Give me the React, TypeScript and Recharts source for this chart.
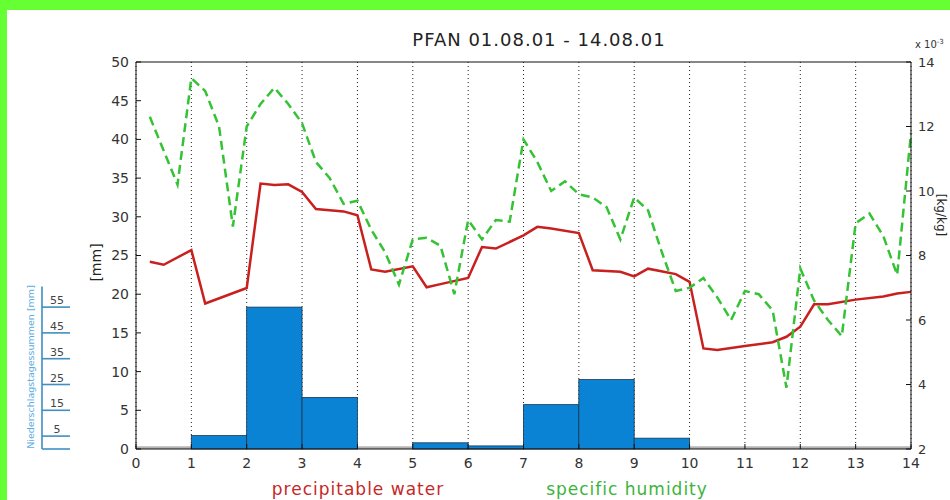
import React from "react";
import {
  ComposedChart, Bar, Line, XAxis, YAxis, CartesianGrid, ReferenceArea, Label,
} from "recharts";

// precipitable water [mm], 6-hourly-ish vertices
const PW_DAY = [0.25, 0.5, 1.0, 1.25, 2.0, 2.25, 2.5, 2.75, 3.0, 3.25, 3.75, 4.0, 4.25, 4.5, 5.0, 5.25, 5.5, 6.0, 6.25, 6.5, 7.0, 7.25, 7.5, 8.0, 8.25, 8.75, 9.0, 9.25, 9.75, 10.0, 10.25, 10.5, 11.0, 11.5, 11.75, 12.0, 12.25, 12.5, 13.0, 13.5, 13.75, 14.0];
const PW_MM = [24.2, 23.8, 25.7, 18.8, 20.8, 34.3, 34.1, 34.2, 33.2, 31.0, 30.7, 30.2, 23.2, 22.9, 23.6, 20.9, 21.3, 22.1, 26.1, 25.9, 27.6, 28.7, 28.5, 27.9, 23.1, 22.9, 22.3, 23.3, 22.6, 21.6, 13.0, 12.8, 13.3, 13.8, 14.5, 15.8, 18.7, 18.7, 19.3, 19.7, 20.1, 20.3];

// specific humidity [x 10^-3 kg/kg]
const Q_DAY = [0.25, 0.75, 1.0, 1.25, 1.5, 1.75, 2.0, 2.25, 2.5, 2.75, 3.0, 3.25, 3.5, 3.75, 4.0, 4.25, 4.5, 4.75, 5.0, 5.25, 5.5, 5.75, 6.0, 6.25, 6.5, 6.75, 7.0, 7.25, 7.5, 7.75, 8.0, 8.25, 8.5, 8.75, 9.0, 9.25, 9.5, 9.75, 10.0, 10.25, 10.5, 10.75, 11.0, 11.25, 11.5, 11.75, 12.0, 12.25, 12.5, 12.75, 13.0, 13.25, 13.5, 13.75, 14.0];
const Q_VAL = [12.3, 10.2, 13.5, 13.1, 12.0, 8.9, 12.0, 12.7, 13.2, 12.7, 12.1, 10.9, 10.4, 9.6, 9.7, 8.8, 8.1, 7.1, 8.5, 8.55, 8.3, 6.8, 9.1, 8.5, 9.1, 9.05, 11.6, 10.9, 10.0, 10.3, 9.9, 9.8, 9.5, 8.5, 9.8, 9.4, 8.1, 6.9, 7.0, 7.3, 6.7, 6.0, 6.9, 6.8, 6.3, 3.9, 7.6, 6.6, 6.0, 5.5, 9.0, 9.3, 8.6, 7.4, 11.8];

// Niederschlagstagessummen [mm], one bar per day (centre of day)
const RAIN_DAY = [1.5, 2.5, 3.5, 5.5, 6.5, 7.5, 8.5, 9.5];
const RAIN_MM = [5.2, 55, 20, 2.4, 1.2, 17.2, 26.9, 4.2];

const X_TICKS = [0, 1, 2, 3, 4, 5, 6, 7, 8, 9, 10, 11, 12, 13, 14];
const MM_TICKS = [0, 5, 10, 15, 20, 25, 30, 35, 40, 45, 50];
const Q_TICKS = [2, 4, 6, 8, 10, 12, 14];
const RAIN_TICKS = [0, 5, 15, 25, 35, 45, 55];
const RAIN_MAX = 150;

const W = 943;
const H = 490;
const PLOT_W = 775;
const PLOT_H = 387;
const DAY_PX = PLOT_W / 14;
const RAIN_X = 35;
const FONT = "'DejaVu Sans', Verdana, sans-serif";

const RED = "#c8201e";
const GREEN = "#35c235";
const BLUE = "#0a83d4";
const RAIN_AXIS = "#3f8fc0";

const allDays = Array.from(new Set([...PW_DAY, ...Q_DAY, ...RAIN_DAY])).sort((a, b) => a - b);
const chartData = allDays.map((d) => {
  const i = PW_DAY.indexOf(d);
  const j = Q_DAY.indexOf(d);
  const k = RAIN_DAY.indexOf(d);
  return {
    day: d,
    pw: i >= 0 ? PW_MM[i] : null,
    q: j >= 0 ? Q_VAL[j] : null,
    rain: k >= 0 ? RAIN_MM[k] : null,
  };
});

// daily bars span the whole day; recharts centres them, we widen to one day
function DayBar(props: any) {
  const { x, y, width, height } = props;
  if (!height || height <= 0) return null;
  const cx = x + width / 2;
  return (
    <rect x={cx - DAY_PX / 2} y={y} width={DAY_PX} height={height} fill={BLUE} stroke="#1b3550" strokeWidth={0.8} />
  );
}

function RainTick(props: any) {
  const { y, payload } = props;
  const v = payload.value;
  return (
    <g>
      <line x1={RAIN_X} x2={RAIN_X + 28} y1={y} y2={y} stroke={RAIN_AXIS} strokeWidth={1.6} />
      {v === 0 ? (
        <line x1={RAIN_X} x2={RAIN_X} y1={y} y2={y - (63 * PLOT_H) / RAIN_MAX} stroke={RAIN_AXIS} strokeWidth={1.6} />
      ) : (
        <text x={RAIN_X + 15} y={y - 3} textAnchor="middle" fontSize={11} fill="#444" fontFamily={FONT}>
          {v}
        </text>
      )}
    </g>
  );
}

export default function App() {
  const tickStyle = { fontFamily: FONT, fontSize: 14, fill: "#333" };
  return (
    <div style={{ position: "absolute", left: 0, top: 0, width: 950, height: 500, background: "#66ff33" }}>
      <div style={{ position: "absolute", left: 7, top: 10, width: W, height: H, background: "#fff", overflow: "hidden" }}>
        <div
          style={{
            position: "absolute", left: 532, top: 19, transform: "translateX(-50%)",
            fontFamily: FONT, fontSize: 18, letterSpacing: 1, color: "#222", whiteSpace: "nowrap",
          }}
        >
          PFAN 01.08.01 - 14.08.01
        </div>
        <ComposedChart width={W} height={H} data={chartData} margin={{ top: 50, right: 0, bottom: 21, left: 0 }}>
          <CartesianGrid horizontal={false} stroke="#222" strokeDasharray="1 3" />
          <XAxis
            dataKey="day"
            type="number"
            domain={[0, 14]}
            ticks={X_TICKS}
            interval={0}
            height={30}
            tick={tickStyle}
            tickSize={-5}
            tickMargin={14}
            stroke="#111"
          />
          <XAxis
            xAxisId="top"
            orientation="top"
            type="number"
            domain={[0, 14]}
            ticks={X_TICKS}
            height={2}
            tick={false}
            tickSize={-5}
            stroke="#111"
          />
          <YAxis yAxisId="qL" orientation="left" domain={[2, 14]} ticks={Q_TICKS} width={0} tick={false} tickSize={-5} stroke="#111" />
          <YAxis
            yAxisId="mm"
            orientation="left"
            domain={[0, 50]}
            ticks={MM_TICKS}
            interval={0}
            width={69}
            tick={tickStyle}
            tickSize={-5}
            tickMargin={12}
            stroke="#111"
          >
            <Label
              content={(p: any) => {
                const vb = p.viewBox;
                const x = vb.x + vb.width - 40;
                const y = vb.y + vb.height / 2 + 7;
                return (
                  <text x={x} y={y} transform={`rotate(-90 ${x} ${y})`} textAnchor="middle" dominantBaseline="central" fontSize={14} fill="#222" fontFamily={FONT}>
                    [mm]
                  </text>
                );
              }}
            />
          </YAxis>
          <YAxis
            yAxisId="rain"
            orientation="left"
            domain={[0, RAIN_MAX]}
            ticks={RAIN_TICKS}
            interval={0}
            width={60}
            axisLine={false}
            tickLine={false}
            tick={<RainTick />}
          >
            <Label
              content={() => {
                const x = 23;
                const y = 357;
                return (
                  <text x={x} y={y} transform={`rotate(-90 ${x} ${y})`} textAnchor="middle" dominantBaseline="central" fontSize={9.5} fill="#5aaee0" fontFamily={FONT}>
                    Niederschlagstagessummen [mm]
                  </text>
                );
              }}
            />
          </YAxis>
          <YAxis yAxisId="mmR" orientation="right" domain={[0, 50]} ticks={MM_TICKS} width={0} tick={false} tickSize={-5} stroke="#111" />
          <YAxis
            yAxisId="q"
            orientation="right"
            domain={[2, 14]}
            ticks={Q_TICKS}
            interval={0}
            width={39}
            tick={{ ...tickStyle, fontSize: 13 }}
            tickSize={-5}
            tickMargin={12}
            stroke="#111"
          >
            <Label
              content={(p: any) => {
                const vb = p.viewBox;
                const x = vb.x + 30;
                const y = vb.y + 153;
                return (
                  <g>
                    <text x={x} y={y} transform={`rotate(90 ${x} ${y})`} textAnchor="middle" dominantBaseline="central" fontSize={12} fill="#222" fontFamily={FONT}>
                      [kg/kg]
                    </text>
                    <text x={vb.x + 4} y={vb.y - 14} fontSize={10} fill="#333" fontFamily={FONT}>
                      x 10
                      <tspan dy={-4} fontSize={7}>-3</tspan>
                    </text>
                  </g>
                );
              }}
            />
          </YAxis>
          <ReferenceArea yAxisId="mm" y1={0} y2={0.35} fill="#b4b4b4" fillOpacity={1} stroke="none" />
          <Bar yAxisId="rain" dataKey="rain" shape={<DayBar />} fill={BLUE} isAnimationActive={false} />
          <Line
            yAxisId="mm"
            type="linear"
            dataKey="pw"
            stroke={RED}
            strokeWidth={2.5}
            dot={false}
            connectNulls
            isAnimationActive={false}
          />
          <Line
            yAxisId="q"
            type="linear"
            dataKey="q"
            stroke={GREEN}
            strokeWidth={2.5}
            strokeDasharray="9 5"
            dot={false}
            connectNulls
            isAnimationActive={false}
          />
        </ComposedChart>
        <div style={{ position: "absolute", left: 351, top: 469, transform: "translateX(-50%)", fontFamily: FONT, fontSize: 17, letterSpacing: 1, color: "#c62828", whiteSpace: "nowrap" }}>
          precipitable water
        </div>
        <div style={{ position: "absolute", left: 620, top: 469, transform: "translateX(-50%)", fontFamily: FONT, fontSize: 17, letterSpacing: 1, color: "#3cb43c", whiteSpace: "nowrap" }}>
          specific humidity
        </div>
      </div>
    </div>
  );
}
